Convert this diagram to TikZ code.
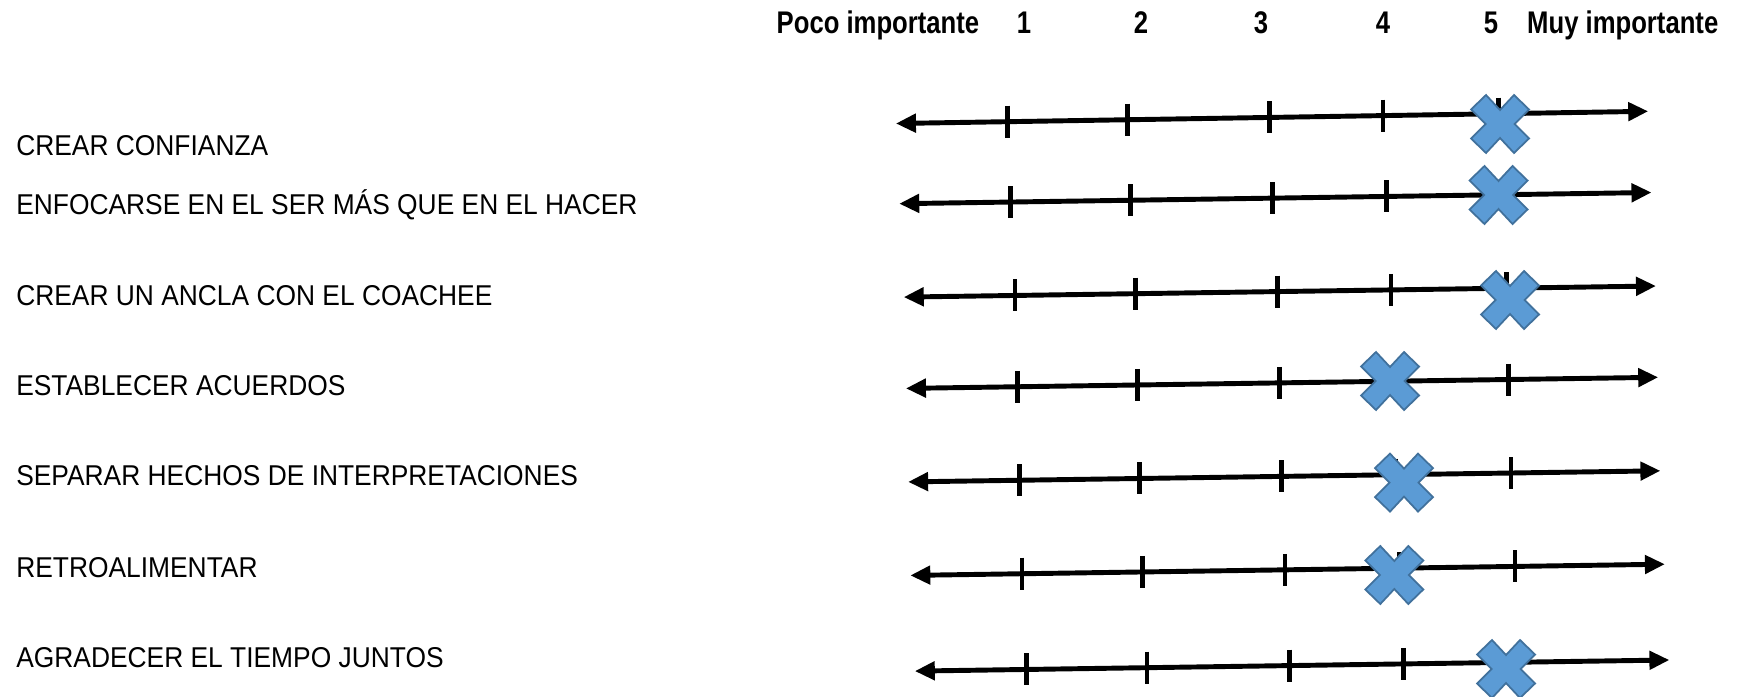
\documentclass[tikz,border=0pt]{standalone}
\usepackage{fontspec}
\setmainfont{Liberation Sans}
\newfontfamily\cabfont{Liberation Sans}[FakeStretch=0.82]
\newfontfamily\itemfont{Liberation Sans}[FakeStretch=0.92]
\usetikzlibrary{calc,arrows.meta,positioning}
\definecolor{tinta}{HTML}{000000}
\definecolor{cruzfill}{HTML}{5B9BD5}
\definecolor{cruzline}{HTML}{41719C}
\tikzset{
  eje/.style={draw=tinta, line width=1.4pt, {Triangle[length=2mm,width=1.8mm]}-{Triangle[length=2mm,width=1.8mm]}},
  marca/.style={draw=tinta, line width=1.3pt},
  cruz/.style={fill=cruzfill, draw=cruzline, line width=0.5pt, line join=miter},
  item/.style={anchor=base west, inner sep=0pt, font=\itemfont\fontsize{8.15pt}{9pt}\selectfont},
  cab/.style={anchor=base, inner sep=0pt, font=\cabfont\fontsize{8.9pt}{10pt}\selectfont\bfseries},
}
% contorno de la cruz azul, centrada en (0,0)
\newcommand\cruzpath{(0,14) -- (14,29) -- (29,14.5) -- (14.5,0) -- (29,-14.5) -- (14,-29)
  -- (0,-14) -- (-14,-29) -- (-29,-14.5) -- (-14.5,0) -- (-29,14.5) -- (-14,29) -- cycle}

\begin{document}
\begin{tikzpicture}[x=0.01cm, y=-0.01cm]
\useasboundingbox (0,0) rectangle (1745,697);

% cabecera
\node[cab, anchor=base west] (poco) at (776,33) {Poco importante};
\node[cab] (n1) at (1024,33) {1};
\node[cab] (n2) at (1141,33) {2};
\node[cab] (n3) at (1261,33) {3};
\node[cab] (n4) at (1383,33) {4};
\node[cab] (n5) at (1491,33) {5};
\node[cab, anchor=base east] (muy) at (1719,33) {Muy importante};

% competencias
\node[item] (confianza) at (15.6,155.3) {CREAR CONFIANZA};
\node[item] (enfocarse) at (15.6,214.3) {ENFOCARSE EN EL SER MÁS QUE EN EL HACER};
\node[item] (ancla) at (15.6,305.5) {CREAR UN ANCLA CON EL COACHEE};
\node[item] (acuerdos) at (15.6,395.7) {ESTABLECER ACUERDOS};
\node[item] (separar) at (15.6,485.8) {SEPARAR HECHOS DE INTERPRETACIONES};
\node[item] (retro) at (15.6,577.1) {RETROALIMENTAR};
\node[item] (agradecer) at (15.6,667.2) {AGRADECER EL TIEMPO JUNTOS};

% escalas
\foreach \xl/\yl/\xr/\yr [count=\i] in {895.9/123.5/1648.2/111.3, 899.2/203.7/1651.5/192.5,
    903.7/297.1/1656/286, 905.9/388.4/1658.2/377.3, 908.1/481.9/1660.4/470.8,
    910.3/575.4/1664.9/564.2, 914.8/671.1/1669.4/660}{
  \coordinate (izq\i) at (\xl,\yl);
  \coordinate (der\i) at (\xr,\yr);
  \draw[eje] (izq\i) -- (der\i);
  \foreach \f in {0.148,0.3078,0.4965,0.6475,0.8013}
    \draw[marca] ($(izq\i)!\f!(der\i)$) ++(0,-16) -- ++(0,32);
}

% respuestas
\draw[cruz, shift={(1500,124)}] \cruzpath;
\draw[cruz, shift={(1498.5,195)}] \cruzpath;
\draw[cruz, shift={(1510,300)}] \cruzpath;
\draw[cruz, shift={(1390,381)}] \cruzpath;
\draw[cruz, shift={(1404,482.6)}] \cruzpath;
\draw[cruz, shift={(1394.3,575)}] \cruzpath;
\draw[cruz, shift={(1506,669)}] \cruzpath;
\end{tikzpicture}
\end{document}
